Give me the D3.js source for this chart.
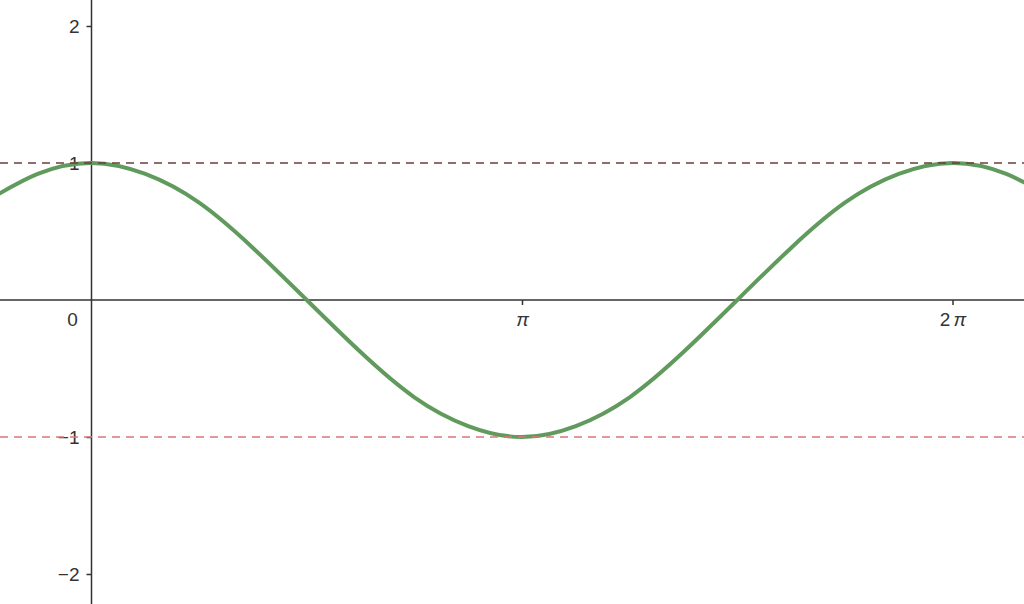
<!DOCTYPE html>
<html>
<head>
<meta charset="utf-8">
<script src="https://cdn.jsdelivr.net/npm/d3@7"></script>
<style>
  body { margin: 0; background: #fff; }
  svg text { font-family: "Liberation Sans", Arial, sans-serif; fill: #333; }
</style>
</head>
<body>
<div id="chart"></div>
<script>
// curve points, x in multiples of pi
var xPi = [-0.25, -0.125, 0, 0.125, 0.25, 0.375, 0.5, 0.625, 0.75, 0.875, 1,
           1.125, 1.25, 1.375, 1.5, 1.625, 1.75, 1.875, 2, 2.125, 2.25];
var yVals = [0.71, 0.92, 1.00, 0.92, 0.71, 0.38, 0.00, -0.38, -0.71, -0.92, -1.00,
             -0.92, -0.71, -0.38, 0.00, 0.38, 0.71, 0.92, 1.00, 0.92, 0.71];
var yTicks = [-2, -1, 1, 2];
var xTicks = [1, 2];
var xTickLabels = ["π", "2π"];
var refLines = [1, -1];

var width = 1024, height = 604;
var fontSize = 19;

var svg = d3.select("#chart")
    .append("svg")
    .attr("width", width)
    .attr("height", height);

// 0 -> 91.5px, 2pi -> 952.5px ; y 1 -> 163, -1 -> 437
var x = d3.scaleLinear().domain([0, 2]).range([91.5, 952.5]);
var y = d3.scaleLinear().domain([-1, 1]).range([437, 163]);

var axisColor = "#333";

// axis lines spanning the whole view
svg.append("line")
    .attr("x1", 0).attr("x2", width)
    .attr("y1", y(0)).attr("y2", y(0))
    .attr("stroke", axisColor).attr("stroke-width", 1.5);
svg.append("line")
    .attr("x1", x(0)).attr("x2", x(0))
    .attr("y1", 0).attr("y2", height)
    .attr("stroke", axisColor).attr("stroke-width", 1.5);

// y axis ticks
var yAxis = svg.append("g")
    .attr("transform", "translate(" + x(0) + ",0)")
    .call(d3.axisLeft(y).tickValues(yTicks).tickSize(5).tickPadding(7)
        .tickFormat(function (d) { return d < 0 ? "\u2212" + Math.abs(d) : d; }));
yAxis.attr("font-size", fontSize).attr("font-family", null);
yAxis.select(".domain").remove();
yAxis.selectAll(".tick line").attr("stroke", axisColor).attr("stroke-width", 1.5);
yAxis.selectAll(".tick text").attr("fill", axisColor);

// x axis ticks
var xAxis = svg.append("g")
    .attr("transform", "translate(0," + y(0) + ")")
    .call(d3.axisBottom(x).tickValues(xTicks).tickSize(5).tickPadding(8)
        .tickFormat(function (d, i) { return ""; }));
xAxis.attr("font-size", fontSize).attr("font-family", null);
xAxis.select(".domain").remove();
xAxis.selectAll(".tick line").attr("stroke", axisColor).attr("stroke-width", 1.5);
xAxis.selectAll(".tick text").each(function (d, i) {
    var t = d3.select(this).attr("fill", axisColor);
    var lab = xTickLabels[i];
    if (lab.length > 1) {
        t.append("tspan").text(lab.slice(0, -1));
        t.append("tspan").attr("dx", 3).attr("font-style", "italic").text(lab.slice(-1));
    } else {
        t.append("tspan").attr("font-style", "italic").text(lab);
    }
});

// origin label
svg.append("text")
    .attr("x", x(0) - 19)
    .attr("y", y(0) + 26)
    .attr("text-anchor", "middle")
    .attr("font-size", fontSize)
    .text("0");

// the curve
var pts = xPi.map(function (d, i) { return [d, yVals[i]]; });
svg.append("path")
    .datum(pts)
    .attr("fill", "none")
    .attr("stroke", "#609a5c")
    .attr("stroke-width", 4)
    .attr("stroke-linecap", "round")
    .attr("d", d3.line()
        .x(function (d) { return x(d[0]); })
        .y(function (d) { return y(d[1]); })
        .curve(d3.curveNatural));

// dashed reference lines
var refColors = ["#6e3d3d", "#d97777"];
svg.selectAll(".ref")
    .data(refLines)
    .enter().append("line")
    .attr("class", "ref")
    .attr("x1", 0).attr("x2", width)
    .attr("y1", function (d) { return y(d); })
    .attr("y2", function (d) { return y(d); })
    .attr("stroke", function (d, i) { return refColors[i]; })
    .attr("stroke-width", 1.5)
    .attr("stroke-dasharray", "8,6");
</script>
</body>
</html>
